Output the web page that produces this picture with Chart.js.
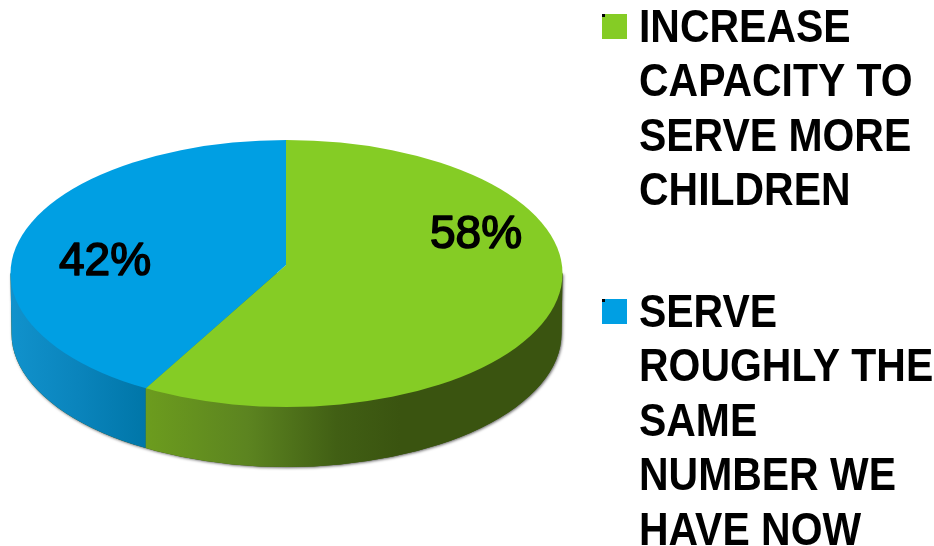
<!DOCTYPE html>
<html>
<head>
<meta charset="utf-8">
<style>html,body{margin:0;padding:0;background:#fff}canvas{display:block}</style>
<script src="https://cdn.jsdelivr.net/npm/chart.js@4/dist/chart.umd.min.js"></script>
</head>
<body>
<canvas id="c" width="934" height="546"></canvas>
<script>
const categories = ["INCREASE CAPACITY TO SERVE MORE CHILDREN", "SERVE ROUGHLY THE SAME NUMBER WE HAVE NOW"];
const values = [58, 42];
const colors = ["#85cc25", "#009fe3"];
const legendLines = [
  ["INCREASE", "CAPACITY TO", "SERVE MORE", "CHILDREN"],
  ["SERVE", "ROUGHLY THE", "SAME", "NUMBER WE", "HAVE NOW"]
];

/* styling of the tilted disc */
const top3d = {cx: 286.5, cy: 273.5, rx: 276, ry: 133.5};
const bottom3d = {cx: 286.5, cy: 333.5, rx: 275, ry: 133.5};
const hub = {x: 286, y: 265};
const overscan = 1.12;
const labelAnchors = [{x: 476, y: 235}, {x: 105, y: 262}];
const legendStyle = {
  x: 639, markerX: 602, markerSize: 25, scaleX: 0.89,
  markerY: [14, 299], baseline: [42, 327], lineHeight: 54.4,
  font: "bold 46px 'Liberation Sans'"
};

function ellipsePath(ctx, e) {
  ctx.beginPath();
  ctx.ellipse(e.cx, e.cy, e.rx, e.ry, 0, 0, Math.PI * 2);
}

function seamX(angle) {
  const dx = Math.cos(angle) * top3d.rx, dy = Math.sin(angle) * top3d.ry;
  const ox = (hub.x - top3d.cx) / top3d.rx, oy = (hub.y - top3d.cy) / top3d.ry;
  const ux = dx / top3d.rx, uy = dy / top3d.ry;
  const a = ux * ux + uy * uy, b = 2 * (ox * ux + oy * uy), c = ox * ox + oy * oy - 1;
  const t = (-b + Math.sqrt(b * b - 4 * a * c)) / (2 * a);
  return hub.x + dx * t;
}

const disc3d = {
  id: "disc3d",
  beforeDatasetsDraw(chart) {
    const ctx = chart.ctx;
    const arcs = chart.getDatasetMeta(0).data;
    const seam = seamX(arcs[0].endAngle);

    const silhouette = () => {
      ctx.beginPath();
      ctx.moveTo(top3d.cx - top3d.rx, top3d.cy);
      ctx.lineTo(bottom3d.cx - bottom3d.rx, bottom3d.cy);
      ctx.ellipse(bottom3d.cx, bottom3d.cy, bottom3d.rx, bottom3d.ry, 0, Math.PI, 0, true);
      ctx.lineTo(top3d.cx + top3d.rx, top3d.cy);
      ctx.closePath();
    };

    ctx.save();
    ctx.shadowColor = "rgba(0,0,0,0.6)";
    ctx.shadowBlur = 3;
    ctx.shadowOffsetX = 1;
    ctx.shadowOffsetY = 1;
    ctx.fillStyle = "#3a5410";
    silhouette();
    ctx.fill();
    ctx.restore();

    ctx.save();
    silhouette();
    ctx.clip();
    const gBlue = ctx.createLinearGradient(10, 0, seam, 0);
    gBlue.addColorStop(0, "#1192cc");
    gBlue.addColorStop(0.5, "#0a84bc");
    gBlue.addColorStop(1, "#0076a8");
    ctx.fillStyle = gBlue;
    ctx.fillRect(0, 240, seam, 260);
    const gGreen = ctx.createLinearGradient(seam, 0, 400, 0);
    gGreen.addColorStop(0, "#6c9c1e");
    gGreen.addColorStop(0.4, "#5c8420");
    gGreen.addColorStop(0.75, "#415f14");
    gGreen.addColorStop(1, "#3a5410");
    ctx.fillStyle = gGreen;
    ctx.fillRect(seam, 240, 500, 260);
    ctx.restore();

    /* top face: library arcs, flattened and clipped to the disc's rim */
    const a0 = arcs[0];
    const R = a0.outerRadius;
    ctx.save();
    ellipsePath(ctx, top3d);
    ctx.clip();
    ctx.translate(hub.x, hub.y);
    ctx.scale(top3d.rx * overscan / R, top3d.ry * overscan / R);
    ctx.translate(-a0.x, -a0.y);
  },
  afterDatasetsDraw(chart) {
    const ctx = chart.ctx;
    ctx.restore();

    ctx.save();
    ctx.fillStyle = "#000";
    ctx.textAlign = "center";
    ctx.textBaseline = "middle";
    ctx.font = "46px 'Liberation Sans'";
    ctx.strokeStyle = "#000";
    ctx.lineWidth = 1.6;
    ctx.lineJoin = "round";
    values.forEach((v, i) => {
      const s = v + "%";
      ctx.fillText(s, labelAnchors[i].x, labelAnchors[i].y);
      ctx.strokeText(s, labelAnchors[i].x, labelAnchors[i].y);
    });

    const L = legendStyle;
    ctx.textAlign = "left";
    ctx.textBaseline = "alphabetic";
    ctx.font = L.font;
    legendLines.forEach((lines, i) => {
      ctx.fillStyle = colors[i];
      ctx.fillRect(L.markerX, L.markerY[i], L.markerSize, L.markerSize);
      ctx.fillStyle = "#000";
      ctx.fillRect(L.markerX, L.markerY[i], 3, 3);
      lines.forEach((t, j) => {
        ctx.save();
        ctx.translate(L.x, L.baseline[i] + j * L.lineHeight);
        ctx.scale(L.scaleX, 1);
        ctx.fillText(t, 0, 0);
        ctx.restore();
      });
    });
    ctx.restore();
  }
};

new Chart(document.getElementById("c"), {
  type: "pie",
  data: {
    labels: categories,
    datasets: [{data: values, backgroundColor: colors, borderWidth: 0, hoverOffset: 0}]
  },
  options: {
    responsive: false,
    animation: false,
    layout: {padding: 0},
    events: [],
    plugins: {legend: {display: false}, tooltip: {enabled: false}, title: {display: false}}
  },
  plugins: [disc3d]
});
</script>
</body>
</html>
